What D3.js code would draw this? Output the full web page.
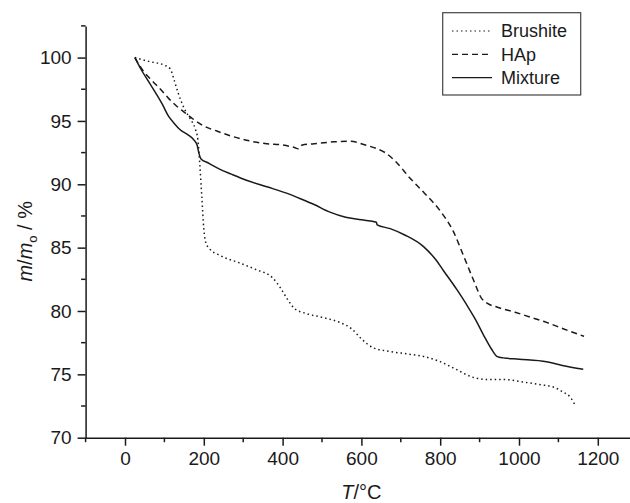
<!DOCTYPE html>
<html>
<head>
<meta charset="utf-8">
<script src="https://cdn.jsdelivr.net/npm/d3@7"></script>
<style>
  body { margin: 0; background: #fff; }
  svg { display: block; font-family: "Liberation Sans", Arial, sans-serif; }
</style>
</head>
<body>
<svg id="chart" width="630" height="503"></svg>
<script>
// [T (°C), m/m0 (%)]
const brushite = [
  [25, 100], [60, 99.7], [100, 99.4], [115, 99.1], [125, 98.2], [135, 97.2], [150, 96.0],
  [165, 95.2], [178, 94.4], [185, 93.5], [190, 91.5], [195, 89.0], [200, 86.5], [205, 85.4],
  [215, 84.9], [240, 84.4], [290, 83.8], [330, 83.3], [375, 82.6], [395, 81.8], [415, 80.8],
  [430, 80.2], [460, 79.8], [500, 79.5], [545, 79.1], [575, 78.6], [600, 77.8], [630, 77.1],
  [673, 76.8], [720, 76.6], [760, 76.4], [800, 76.0], [840, 75.4], [880, 74.8], [920, 74.6],
  [960, 74.6], [1010, 74.4], [1050, 74.2], [1087, 74.0], [1112, 73.6], [1130, 73.2], [1142, 72.6]
];

const hap = [
  [25, 100], [45, 99.0], [65, 98.3], [90, 97.5], [110, 96.8], [130, 96.2], [150, 95.7],
  [175, 95.1], [200, 94.6], [233, 94.2], [270, 93.8], [320, 93.4], [360, 93.2], [400, 93.1],
  [430, 92.9], [440, 92.8], [450, 93.1], [480, 93.2], [530, 93.35], [570, 93.4], [610, 93.1],
  [640, 92.8], [660, 92.5], [690, 91.7], [723, 90.5], [760, 89.3], [800, 87.9], [833, 86.3],
  [860, 84.3], [885, 82.4], [905, 81.0], [920, 80.6], [945, 80.3], [990, 79.9], [1030, 79.5],
  [1070, 79.1], [1112, 78.6], [1165, 78.0]
];

const mixture = [
  [25, 100], [42, 99.0], [60, 98.1], [80, 97.1], [95, 96.3], [110, 95.4], [125, 94.8],
  [140, 94.3], [160, 93.9], [175, 93.5], [183, 93.1], [188, 92.4], [193, 92.0], [210, 91.7],
  [240, 91.2], [270, 90.8], [310, 90.3], [360, 89.8], [410, 89.3], [450, 88.8], [480, 88.4],
  [520, 87.8], [560, 87.4], [600, 87.2], [638, 87.0], [640, 86.8], [673, 86.5], [710, 86.0],
  [757, 85.1], [790, 84.0], [808, 83.2], [842, 81.7], [867, 80.5], [890, 79.3], [910, 78.1],
  [930, 77.0], [945, 76.4], [960, 76.3], [1000, 76.2], [1070, 76.0], [1110, 75.7], [1163, 75.4]
];

const xTicks = [0, 200, 400, 600, 800, 1000, 1200];
const xMinorTicks = [-100, 100, 300, 500, 700, 900, 1100, 1300];
const yTicks = [70, 75, 80, 85, 90, 95, 100];
const yMinorTicks = [72.5, 77.5, 82.5, 87.5, 92.5, 97.5, 102.5];

const series = [
  { name: "Brushite", data: brushite, dash: "1.5,3" },
  { name: "HAp", data: hap, dash: "6,4" },
  { name: "Mixture", data: mixture, dash: null }
];

const ink = "#1a1a1a";
const svg = d3.select("#chart");

const xScale = d3.scaleLinear().domain([-100, 1300]).range([85.6, 637.2]);
const yScale = d3.scaleLinear().domain([70, 102.5]).range([437.7, 25.9]);

// axes
const xAxisGroup = svg.append("g")
    .attr("transform", `translate(0, ${yScale(70)})`)
    .call(d3.axisBottom(xScale).tickValues(xTicks).tickFormat(d3.format("d"))
        .tickSize(8).tickSizeOuter(0).tickPadding(6));

xAxisGroup.append("g")
    .selectAll("line")
    .data(xMinorTicks)
    .join("line")
        .attr("x1", d => xScale(d))
        .attr("x2", d => xScale(d))
        .attr("y1", 0)
        .attr("y2", 4.5);

const yAxisGroup = svg.append("g")
    .attr("transform", `translate(${xScale(-100)}, 0)`)
    .call(d3.axisLeft(yScale).tickValues(yTicks).tickFormat(d3.format("d"))
        .tickSize(8).tickSizeOuter(0).tickPadding(6));

yAxisGroup.append("g")
    .selectAll("line")
    .data(yMinorTicks)
    .join("line")
        .attr("x1", 0)
        .attr("x2", -4.5)
        .attr("y1", d => yScale(d))
        .attr("y2", d => yScale(d));

svg.selectAll(".domain, .tick line, g line")
    .attr("stroke", ink)
    .attr("stroke-width", 1.5);

svg.selectAll(".tick text")
    .attr("fill", ink)
    .style("font-size", "19px")
    .style("font-family", "'Liberation Sans', Arial, sans-serif");

// curves
const line = d3.line()
    .x(d => xScale(d[0]))
    .y(d => yScale(d[1]))
    .curve(d3.curveMonotoneX);

svg.selectAll(".curve")
    .data(series)
    .join("path")
        .classed("curve", true)
        .attr("fill", "none")
        .attr("stroke", ink)
        .attr("stroke-width", 1.5)
        .attr("stroke-dasharray", d => d.dash)
        .attr("d", d => line(d.data));

// axis titles
svg.append("text")
    .attr("x", xScale(600))
    .attr("y", 499)
    .attr("text-anchor", "middle")
    .attr("fill", ink)
    .style("font-size", "20px")
    .html('<tspan font-style="italic">T</tspan>/°C');

svg.append("text")
    .attr("transform", `translate(32, ${yScale(85.5)}) rotate(-90)`)
    .attr("text-anchor", "middle")
    .attr("fill", ink)
    .style("font-size", "20px")
    .html('<tspan font-style="italic">m</tspan>/<tspan font-style="italic">m</tspan><tspan font-size="13px" dy="5">o</tspan><tspan dy="-5"> / %</tspan>');

// legend
const legend = svg.append("g");

legend.append("rect")
    .attr("x", 442.7)
    .attr("y", 12.7)
    .attr("width", 138)
    .attr("height", 82.3)
    .attr("fill", "#fff")
    .attr("stroke", "#444")
    .attr("stroke-width", 1.2);

const rows = legend.selectAll(".legendRow")
    .data(series)
    .join("g")
        .classed("legendRow", true)
        .attr("transform", (d, i) => `translate(452, ${31 + i * 23.3})`);

rows.append("line")
    .attr("x1", 0)
    .attr("x2", 40)
    .attr("stroke", ink)
    .attr("stroke-width", 1.2)
    .attr("stroke-dasharray", d => d.dash);

rows.append("text")
    .attr("x", 49)
    .attr("dy", "0.35em")
    .attr("fill", ink)
    .style("font-size", "18px")
    .text(d => d.name);
</script>
</body>
</html>
